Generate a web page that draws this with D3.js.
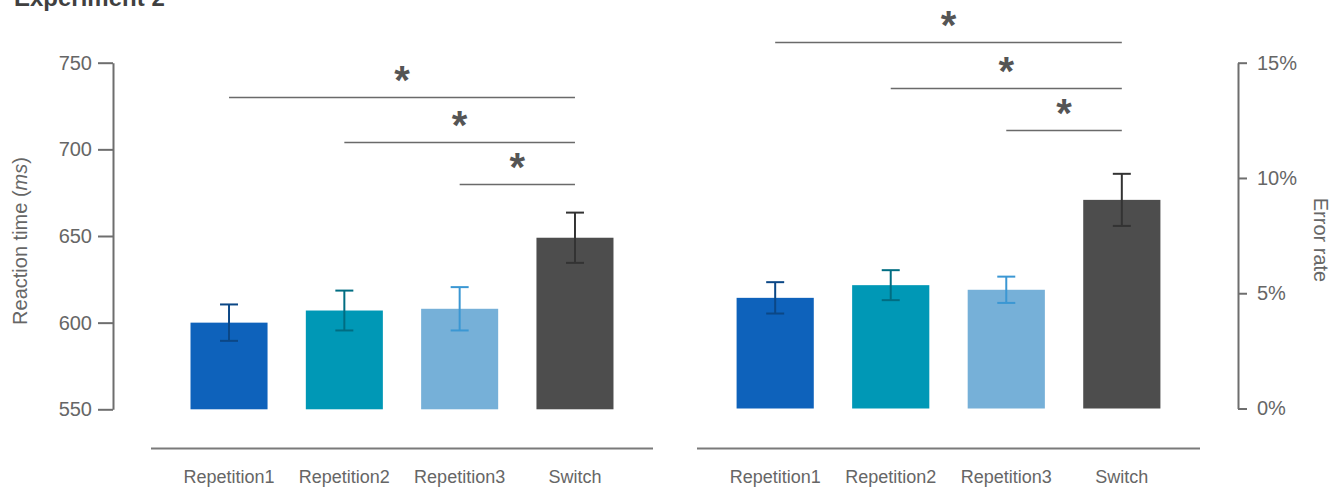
<!DOCTYPE html>
<html>
<head>
<meta charset="utf-8">
<script src="https://cdn.jsdelivr.net/npm/d3@7"></script>
<style>
  html, body { margin: 0; padding: 0; background: #fff; }
  svg { display: block; font-family: "Liberation Sans", Arial, sans-serif; }
</style>
</head>
<body>
<svg id="chart" width="1341" height="488"></svg>
<script>
// ---- data ----
const categories = ["Repetition1", "Repetition2", "Repetition3", "Switch"];
const rtMeans = [600, 607, 608, 649];
const rtErrors = [10.5, 11.5, 12.5, 14.5];
const errorRateMeans = [4.8, 5.35, 5.15, 9.05];
const errorRateErrors = [0.68, 0.65, 0.57, 1.13];
const rtTicks = [550, 600, 650, 700, 750];
const errorRateTicks = [0, 5, 10, 15];
const sigFrom = ["Repetition1", "Repetition2", "Repetition3"];
const sigTo = "Switch";
const rtSigLevels = [730, 704, 680];
const errorRateSigLevels = [15.9, 13.9, 12.1];
const barColors = ["#0e62bb", "#0098b6", "#76b0d8", "#4d4d4d"];
const errColors = ["#0b4786", "#006d82", "#3b97d3", "#333333"];

const svg = d3.select("#chart");
const textColor = "#666666";
const axisColor = "#6e6e6e";

// title (cut at the top edge, as in the reference)
svg.append("text").attr("x", 14).attr("y", 6)
  .attr("font-size", 24).attr("font-weight", "bold").attr("fill", "#404040")
  .text("Experiment 2");

function panel(x0, x1, y, means, errs, sigLevels) {
  const x = d3.scaleBand().domain(categories).range([x0, x1])
    .paddingInner(0.332).paddingOuter(0.334);
  const g = svg.append("g");
  const base = y.domain()[0];
  g.selectAll("rect.bar").data(categories).join("rect")
    .attr("class", "bar")
    .attr("x", d => x(d)).attr("width", x.bandwidth())
    .attr("y", (d, i) => y(means[i]))
    .attr("height", (d, i) => y(base) - y(means[i]))
    .attr("fill", (d, i) => barColors[i]);
  const cap = 9;
  categories.forEach((c, i) => {
    const cx = x(c) + x.bandwidth() / 2;
    const yt = y(means[i] + errs[i]), yb = y(means[i] - errs[i]);
    const col = errColors[i];
    g.append("line").attr("x1", cx).attr("x2", cx).attr("y1", yt).attr("y2", yb)
      .attr("stroke", col).attr("stroke-width", 2);
    [yt, yb].forEach(yy => g.append("line")
      .attr("x1", cx - cap).attr("x2", cx + cap).attr("y1", yy).attr("y2", yy)
      .attr("stroke", col).attr("stroke-width", 2));
  });
  // baseline
  g.append("line").attr("x1", x0 - 1).attr("x2", x1 + 1)
    .attr("y1", 448.5).attr("y2", 448.5)
    .attr("stroke", "#7a7a7a").attr("stroke-width", 2);
  // category labels
  g.selectAll("text.cat").data(categories).join("text")
    .attr("class", "cat")
    .attr("x", d => x(d) + x.bandwidth() / 2).attr("y", 483)
    .attr("text-anchor", "middle").attr("font-size", 18).attr("fill", textColor)
    .text(d => d);
  // significance
  const xTo = x(sigTo) + x.bandwidth() / 2;
  sigFrom.forEach((c, i) => {
    const xf = x(c) + x.bandwidth() / 2;
    const ly = Math.round(y(sigLevels[i])) + 0.5;
    g.append("line").attr("x1", xf).attr("x2", xTo).attr("y1", ly).attr("y2", ly)
      .attr("stroke", "#6a6a6a").attr("stroke-width", 1.5);
    g.append("text").attr("x", (xf + xTo) / 2).attr("y", ly - 4)
      .attr("text-anchor", "middle").attr("font-size", 40).attr("font-weight", "bold")
      .attr("fill", "#555555").text("*");
  });
  return x;
}

// left panel: reaction time
const yRT = d3.scaleLinear().domain([550, 750]).range([409.3, 62.7]);
panel(152, 652, yRT, rtMeans, rtErrors, rtSigLevels);

const axL = svg.append("g").attr("transform", "translate(113,0)")
  .call(d3.axisLeft(yRT).tickValues(rtTicks).tickSize(15).tickSizeOuter(0).tickPadding(6));
axL.select(".domain").attr("stroke", axisColor).attr("stroke-width", 2);
axL.selectAll(".tick line").attr("stroke", axisColor).attr("stroke-width", 2);
axL.selectAll(".tick text").attr("font-size", 20).attr("fill", textColor)
  .attr("font-family", "Liberation Sans, Arial, sans-serif");

const lt = svg.append("text").attr("transform", "translate(27,241) rotate(-90)")
  .attr("text-anchor", "middle").attr("font-size", 20).attr("fill", textColor);
lt.append("tspan").text("Reaction time (");
lt.append("tspan").attr("font-style", "italic").text("ms");
lt.append("tspan").text(")");

// right panel: error rate
const yER = d3.scaleLinear().domain([0, 15]).range([408.5, 62.7]);
panel(698, 1199, yER, errorRateMeans, errorRateErrors, errorRateSigLevels);

const axR = svg.append("g").attr("transform", "translate(1238,0)")
  .call(d3.axisRight(yER).tickValues(errorRateTicks).tickSize(9).tickSizeOuter(0).tickPadding(10)
    .tickFormat(d => d + "%"));
axR.select(".domain").attr("stroke", axisColor).attr("stroke-width", 2);
axR.selectAll(".tick line").attr("stroke", axisColor).attr("stroke-width", 2);
axR.selectAll(".tick text").attr("font-size", 20).attr("fill", textColor)
  .attr("font-family", "Liberation Sans, Arial, sans-serif");

svg.append("text").attr("transform", "translate(1314,240) rotate(90)")
  .attr("text-anchor", "middle").attr("font-size", 20).attr("fill", textColor)
  .text("Error rate");
</script>
</body>
</html>
